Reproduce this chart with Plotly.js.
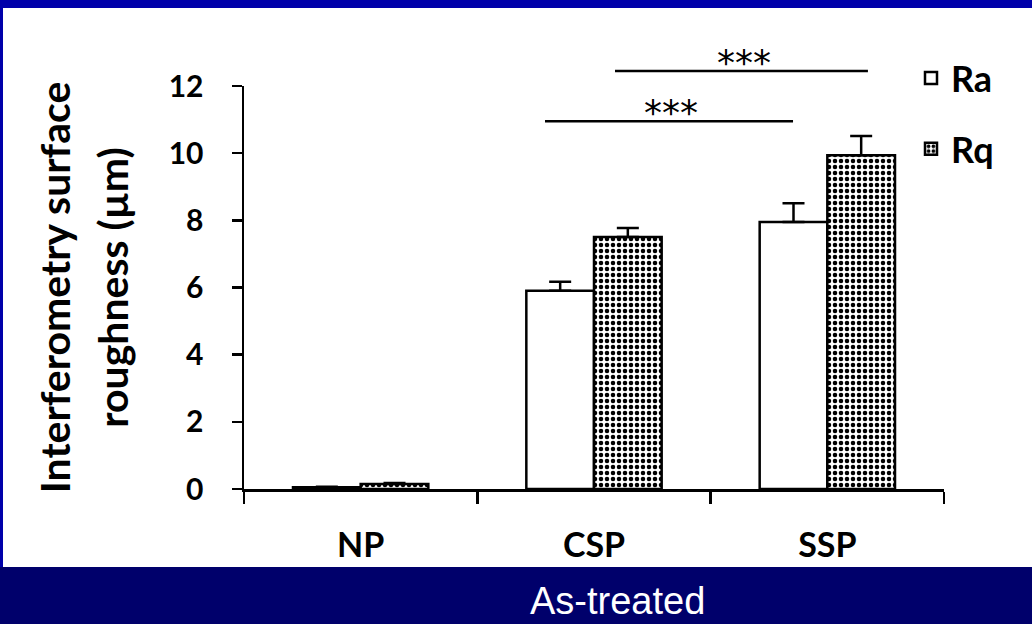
<!DOCTYPE html>
<html>
<head>
<meta charset="utf-8">
<script src="https://cdn.plot.ly/plotly-3.0.1.min.js"></script>
<style>
  html, body { margin: 0; padding: 0; background: #0000AA; }
  #chart { width: 1032px; height: 624px; }
</style>
</head>
<body>
<div id="chart"></div>
<script>
// ---- data ----
const categories = ['NP', 'CSP', 'SSP'];
const raValues = [0.05, 5.9, 7.95];
const raErrors = [0.02, 0.27, 0.56];
const rqValues = [0.15, 7.5, 9.94];
const rqErrors = [0.03, 0.27, 0.57];
const seriesNames = ['Ra', 'Rq'];
const yTickValues = [0, 2, 4, 6, 8, 10, 12];
const yMax = 12;
// significance brackets (category index positions, value level)
const sigStart = [0.79, 1.09];
const sigEnd = [1.853, 2.174];
const sigLevel = [10.95, 12.45];
const sigLabel = ['***', '***'];

// ---- layout helpers ----
const W = 1032, H = 624;
const M = { l: 244, r: 88, t: 86, b: 135 };
const PW = W - M.l - M.r, PH = H - M.t - M.b;
const px = x => (x - M.l) / PW;
const py = y => (H - M.b - y) / PH;

const FONT = 'Lato, "Open Sans", sans-serif';

const traces = [
  {
    type: 'bar', name: seriesNames[0], x: categories, y: raValues,
    legendgroup: 'a',
    marker: { color: '#ffffff', line: { color: '#000000', width: 2.5 } },
    error_y: { type: 'data', symmetric: false, array: raErrors,
      arrayminus: raErrors.map(() => 0), color: '#000000', thickness: 2.5, width: 11 }
  },
  {
    type: 'bar', name: seriesNames[1], x: categories, y: rqValues,
    legendgroup: 'b',
    marker: { color: '#ffffff', line: { color: '#000000', width: 2.5 },
      pattern: { shape: '.', fgcolor: '#000000', bgcolor: '#ffffff', size: 6, solidity: 0.45 } },
    error_y: { type: 'data', symmetric: false, array: rqErrors,
      arrayminus: rqErrors.map(() => 0), color: '#000000', thickness: 2.5, width: 11 }
  }
];

const shapes = [
  // white panel
  { type: 'rect', xref: 'paper', yref: 'paper', layer: 'below',
    x0: px(3), x1: px(1040), y0: py(567), y1: py(8),
    fillcolor: '#ffffff', line: { width: 0 } },
  // bottom navy band
  { type: 'rect', xref: 'paper', yref: 'paper', layer: 'below',
    x0: px(-10), x1: px(1040), y0: py(630), y1: py(567),
    fillcolor: '#00006B', line: { width: 0 } }
];
const annotations = [];
for (let i = 0; i < sigStart.length; i++) {
  shapes.push({ type: 'line', xref: 'x', yref: 'paper',
    x0: sigStart[i], x1: sigEnd[i], y0: sigLevel[i] / yMax, y1: sigLevel[i] / yMax,
    line: { color: '#000000', width: 2.5 } });
  annotations.push({ xref: 'x', yref: 'paper',
    x: (sigStart[i] + sigEnd[i]) / 2 + 0.01, y: sigLevel[i] / yMax,
    yanchor: 'bottom', showarrow: false, text: sigLabel[i],
    font: { family: '"DejaVu Sans", sans-serif', size: 36, color: '#000000' },
    yshift: -14 });
}
annotations.push({ xref: 'paper', yref: 'paper', x: px(617), y: py(601),
  xanchor: 'center', yanchor: 'middle', showarrow: false, text: 'As-treated',
  font: { family: '"Liberation Sans", Arial, sans-serif', size: 38, color: '#ffffff' } });

const layout = {
  width: W, height: H,
  margin: M,
  paper_bgcolor: '#0000AA',
  plot_bgcolor: 'rgba(0,0,0,0)',
  barmode: 'group', bargap: 0.42, bargroupgap: 0,
  showlegend: true,
  legend: {
    x: px(911), y: py(48), xanchor: 'left', yanchor: 'top',
    bgcolor: 'rgba(0,0,0,0)', borderwidth: 0,
    traceorder: 'grouped', tracegroupgap: 21,
    font: { family: FONT, size: 36, weight: 700, color: '#000000' }
  },
  xaxis: {
    type: 'category', tickson: 'boundaries',
    showline: true, linecolor: '#000000', linewidth: 2.5,
    ticks: 'outside', ticklen: 12, tickwidth: 2.5, tickcolor: '#000000',
    showgrid: false, zeroline: false,
    tickfont: { family: FONT, size: 34, weight: 700, color: '#000000' },
    ticklabelstandoff: 25
  },
  yaxis: {
    range: [0, yMax], tickvals: yTickValues,
    showline: true, linecolor: '#000000', linewidth: 2.5,
    ticks: 'outside', ticklen: 10, tickwidth: 2.5, tickcolor: '#000000',
    showgrid: false, zeroline: false,
    tickfont: { family: FONT, size: 30, weight: 700, color: '#000000' },
    ticklabelstandoff: 22,
    title: {
      text: '<span style="font-size:41px">Interferometry surface</span><br><span style="font-size:41px">roughness (µm)</span>',
      font: { family: FONT, size: 45, weight: 700, color: '#000000' },
      standoff: 26
    }
  },
  shapes: shapes,
  annotations: annotations
};

Plotly.newPlot('chart', traces, layout, { staticPlot: true, displayModeBar: false });
</script>
</body>
</html>
